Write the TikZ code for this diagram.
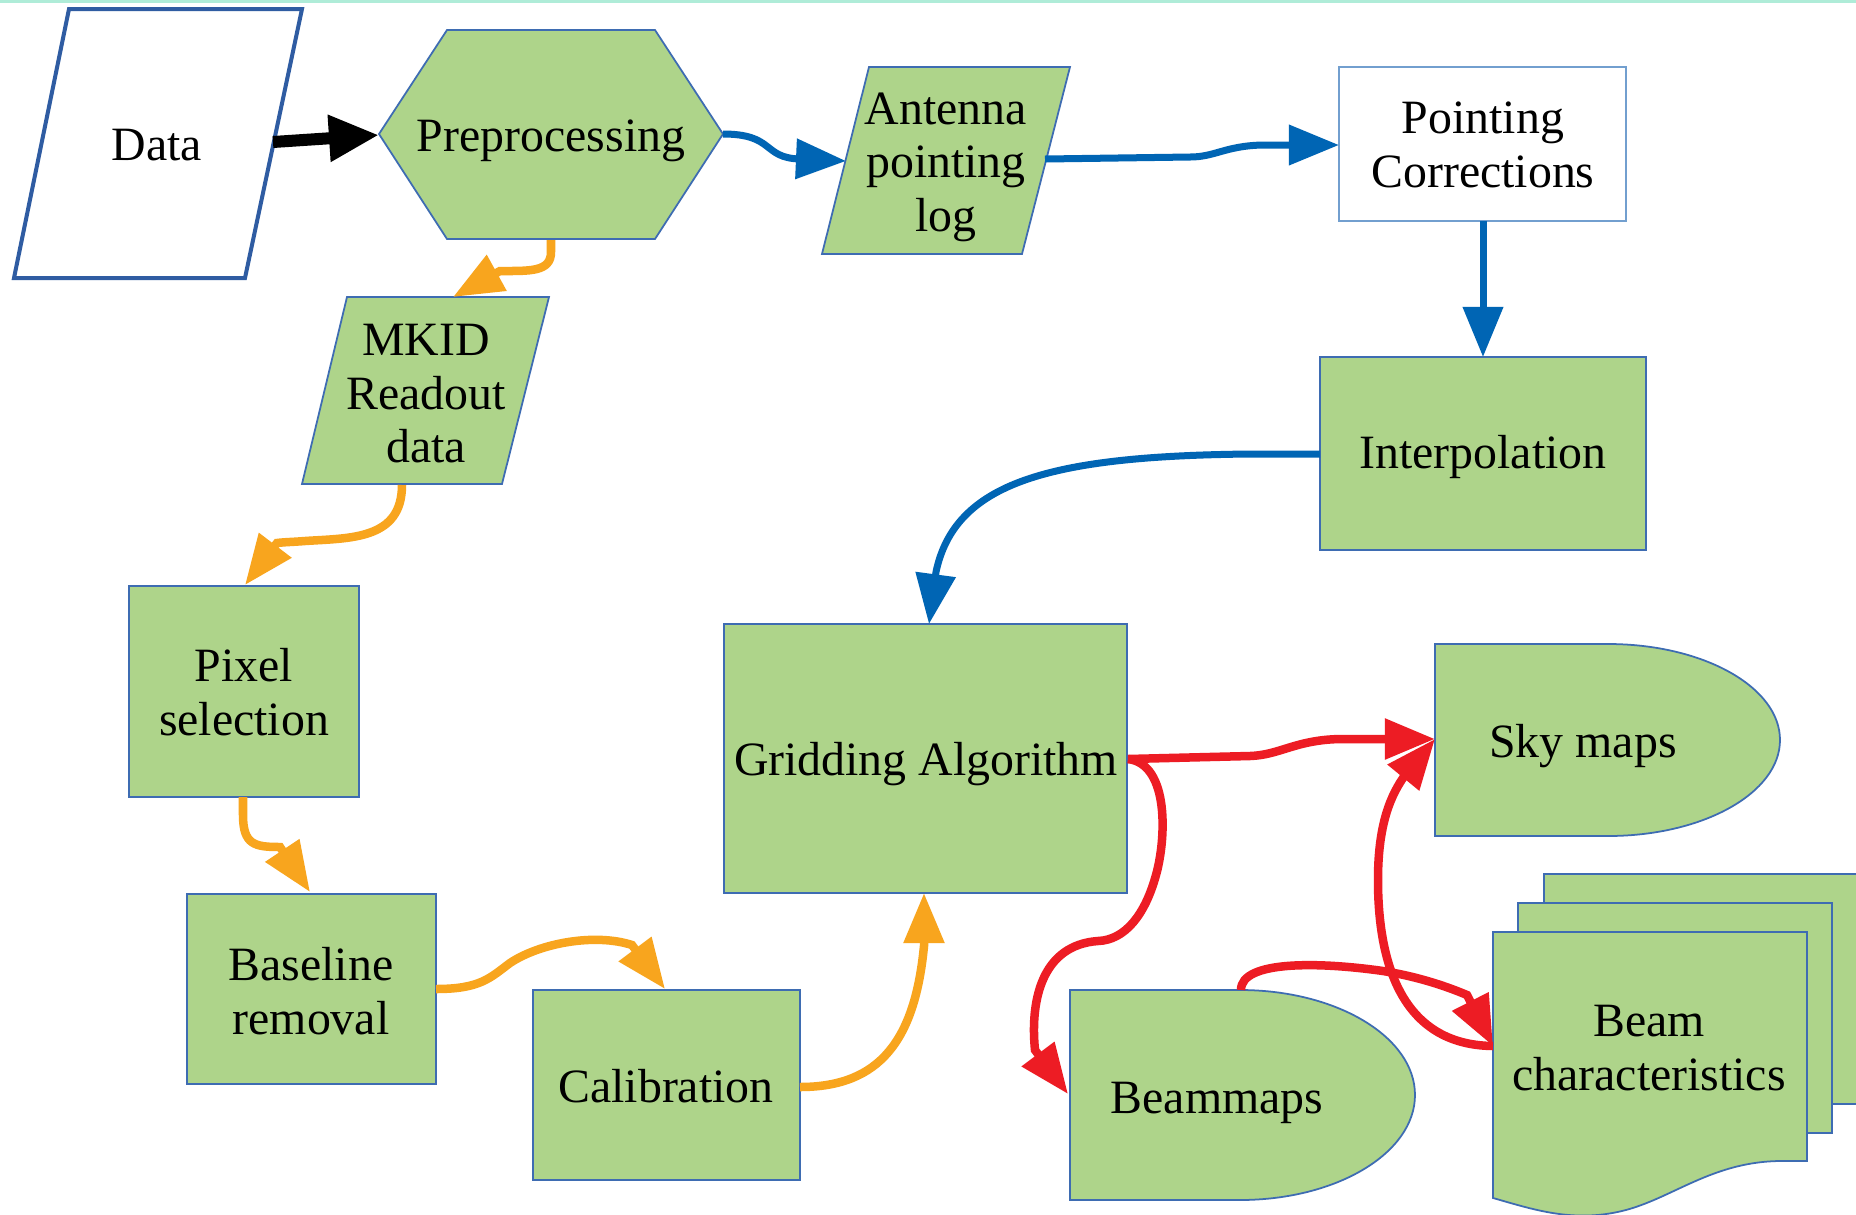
\documentclass[tikz,border=0pt]{standalone}
\usepackage{fontspec}
\setmainfont{Liberation Serif}
\usetikzlibrary{arrows.meta}
\definecolor{gfill}{RGB}{174,212,138}
\definecolor{gline}{RGB}{62,108,178}
\definecolor{lline}{RGB}{114,159,207}
\definecolor{dline}{RGB}{47,92,162}
\definecolor{ablue}{RGB}{0,101,180}
\definecolor{aorange}{RGB}{248,165,30}
\definecolor{ared}{RGB}{237,28,36}
\definecolor{mint}{RGB}{175,236,216}
\begin{document}
\begin{tikzpicture}[x=0.01cm,y=-0.01cm,
  gshape/.style={fill=gfill,draw=gline,line width=0.5pt,line join=miter},
  lbl/.style={align=center,font=\fontsize{13.6}{15.2}\selectfont,inner sep=0pt},
  bigtip/.style={-{Triangle[length=5mm,width=3.9mm]}},
  blueflow/.style={bigtip,draw=ablue,line width=0.7mm},
  orangeflow/.style={bigtip,draw=aorange,line width=0.85mm},
  redflow/.style={bigtip,draw=ared,line width=0.85mm},
  blackflow/.style={-{Triangle[length=5mm,width=4.4mm]},draw=black,line width=1.2mm}]
\useasboundingbox (0,0) rectangle (1856,1214);
\fill[white] (0,0) rectangle (1856,1214);
\fill[mint] (0,0) rectangle (1856,2.5);

% ---------- shapes ----------
% Data (input parallelogram)
\draw[draw=dline,line width=0.04cm,fill=white,line join=miter] (69,9) -- (302,9) -- (245,278) -- (14,278) -- cycle;
% Preprocessing hexagon
\draw[gshape] (379,134) -- (447,30) -- (655,30) -- (723,134) -- (655,239) -- (447,239) -- cycle;
% Antenna pointing log
\draw[gshape] (869,67) -- (1070,67) -- (1022,254) -- (822,254) -- cycle;
% Pointing Corrections
\draw[fill=white,draw=lline,line width=0.5pt] (1339,67) rectangle (1626,221);
% Interpolation
\draw[gshape] (1320,357) rectangle (1646,550);
% MKID readout data
\draw[gshape] (347,297) -- (549,297) -- (502,484) -- (302,484) -- cycle;
% Pixel selection
\draw[gshape] (129,586) rectangle (359,797);
% Baseline removal
\draw[gshape] (187,894) rectangle (436,1084);
% Calibration
\draw[gshape] (533,990) rectangle (800,1180);
% Gridding Algorithm
\draw[gshape] (724,624) rectangle (1127,893);
% Sky maps (delay)
\draw[gshape] (1435,644) -- (1608,644) arc[start angle=-90,end angle=90,x radius=172,y radius=96] -- (1435,836) -- cycle;
% Beammaps (delay)
\draw[gshape] (1070,990) -- (1240,990) arc[start angle=-90,end angle=90,x radius=175,y radius=105] -- (1070,1200) -- cycle;
% Beam characteristics (multi-document)
\draw[gshape] (1544,874) -- (1875,874) -- (1875,1104) -- (1544,1104) -- cycle;
\draw[gshape] (1518,903) rectangle (1832,1133);
\draw[gshape] (1493,932) -- (1807,932) -- (1807,1161) -- (1782,1161)
  .. controls (1712,1161) and (1672,1199) .. (1622,1211)
  .. controls (1572,1223) and (1532,1209) .. (1493,1198) -- cycle;

% ---------- labels ----------
\node[lbl] (data) at (157,145) {Data};
\node[lbl] (prep) at (551,141) {Preprocessing};
\node[lbl] (ant) at (946,167) {Antenna\\pointing\\log};
\node[lbl] (pc) at (1483,145) {Pointing\\Corrections};
\node[lbl] (interp) at (1483,457) {Interpolation};
\node[lbl] (mkid) at (426,394) {MKID\\Readout\\data};
\node[lbl] (pix) at (244,692) {Pixel\\selection};
\node[lbl] (base) at (311,991) {Baseline\\removal};
\node[lbl] (cal) at (666,1086) {Calibration};
\node[lbl] (grid) at (926,764) {Gridding Algorithm};
\node[lbl] (sky) at (1583,746) {Sky maps};
\node[lbl] (beam) at (1217,1103) {Beammaps};
\node[lbl] (bchar) at (1649,1048) {Beam\\characteristics};

% ---------- connection points ----------
\coordinate (dataR) at (273,142);
\coordinate (prepL) at (379,135);
\coordinate (prepR) at (723,134);
\coordinate (prepB) at (551,240);
\coordinate (antL) at (846,161);
\coordinate (antR) at (1045,159);
\coordinate (pcL) at (1339,145);
\coordinate (pcB) at (1483,221);
\coordinate (interpT) at (1483,357);
\coordinate (interpL) at (1320,454);
\coordinate (gridT) at (929,624);
\coordinate (gridB) at (924,893);
\coordinate (gridR) at (1128,759);
\coordinate (mkidT) at (453,297);
\coordinate (mkidB) at (402,485);
\coordinate (pixT) at (245,585);
\coordinate (pixB) at (243,797);
\coordinate (baseT) at (310,892);
\coordinate (baseR) at (436,989);
\coordinate (calT) at (665,989);
\coordinate (calR) at (800,1087);
\coordinate (skyL) at (1435,739);
\coordinate (beamL) at (1068,1094);
\coordinate (beamT) at (1241,990);
\coordinate (bcharL) at (1493,1046);

% ---------- connectors ----------
\draw[blackflow] (dataR) -- (prepL);
\draw[blueflow] (prepR) .. controls (775,134) and (762,158) .. (800,159) -- (antL);
\draw[blueflow] (antR) -- (1190,157) .. controls (1215,157) and (1225,146) .. (1262,145) -- (pcL);
\draw[blueflow] (pcB) -- (interpT);
\draw[blueflow] (interpL) -- (1250,454) .. controls (1050,456) and (955,482) .. (936,572) -- (gridT);

\draw[orangeflow] (prepB) -- (551,252) .. controls (551,272) and (530,271) .. (500,271) -- (mkidT);
\draw[orangeflow] (mkidB) .. controls (402,540) and (350,538) .. (305,541) .. controls (293,542) and (285,542) .. (277,543) -- (pixT);
\draw[orangeflow] (pixB) -- (243,815) .. controls (243,845) and (255,847) .. (280,847) -- (baseT);
\draw[orangeflow] (baseR) .. controls (480,989) and (490,978) .. (510,963) .. controls (540,943) and (595,933) .. (632,945) -- (calT);
\draw[orangeflow] (calR) .. controls (880,1087) and (915,1040) .. (924,946) -- (gridB);

\draw[redflow] (gridR) -- (1250,756) .. controls (1280,755) and (1295,740) .. (1340,739) -- (skyL);
\draw[redflow] (gridR) .. controls (1170,764) and (1166,840) .. (1156,875) .. controls (1145,915) and (1125,940) .. (1098,941) .. controls (1042,945) and (1030,1000) .. (1035,1050) -- (beamL);
\draw[redflow] (bcharL) .. controls (1400,1045) and (1378,960) .. (1378,880) .. controls (1378,830) and (1388,800) .. (1403,778) -- (skyL);
\draw[redflow] (beamT) .. controls (1241,960) and (1320,962) .. (1383,971) .. controls (1420,977) and (1448,987) .. (1467,995) -- (bcharL);
\end{tikzpicture}
\end{document}
